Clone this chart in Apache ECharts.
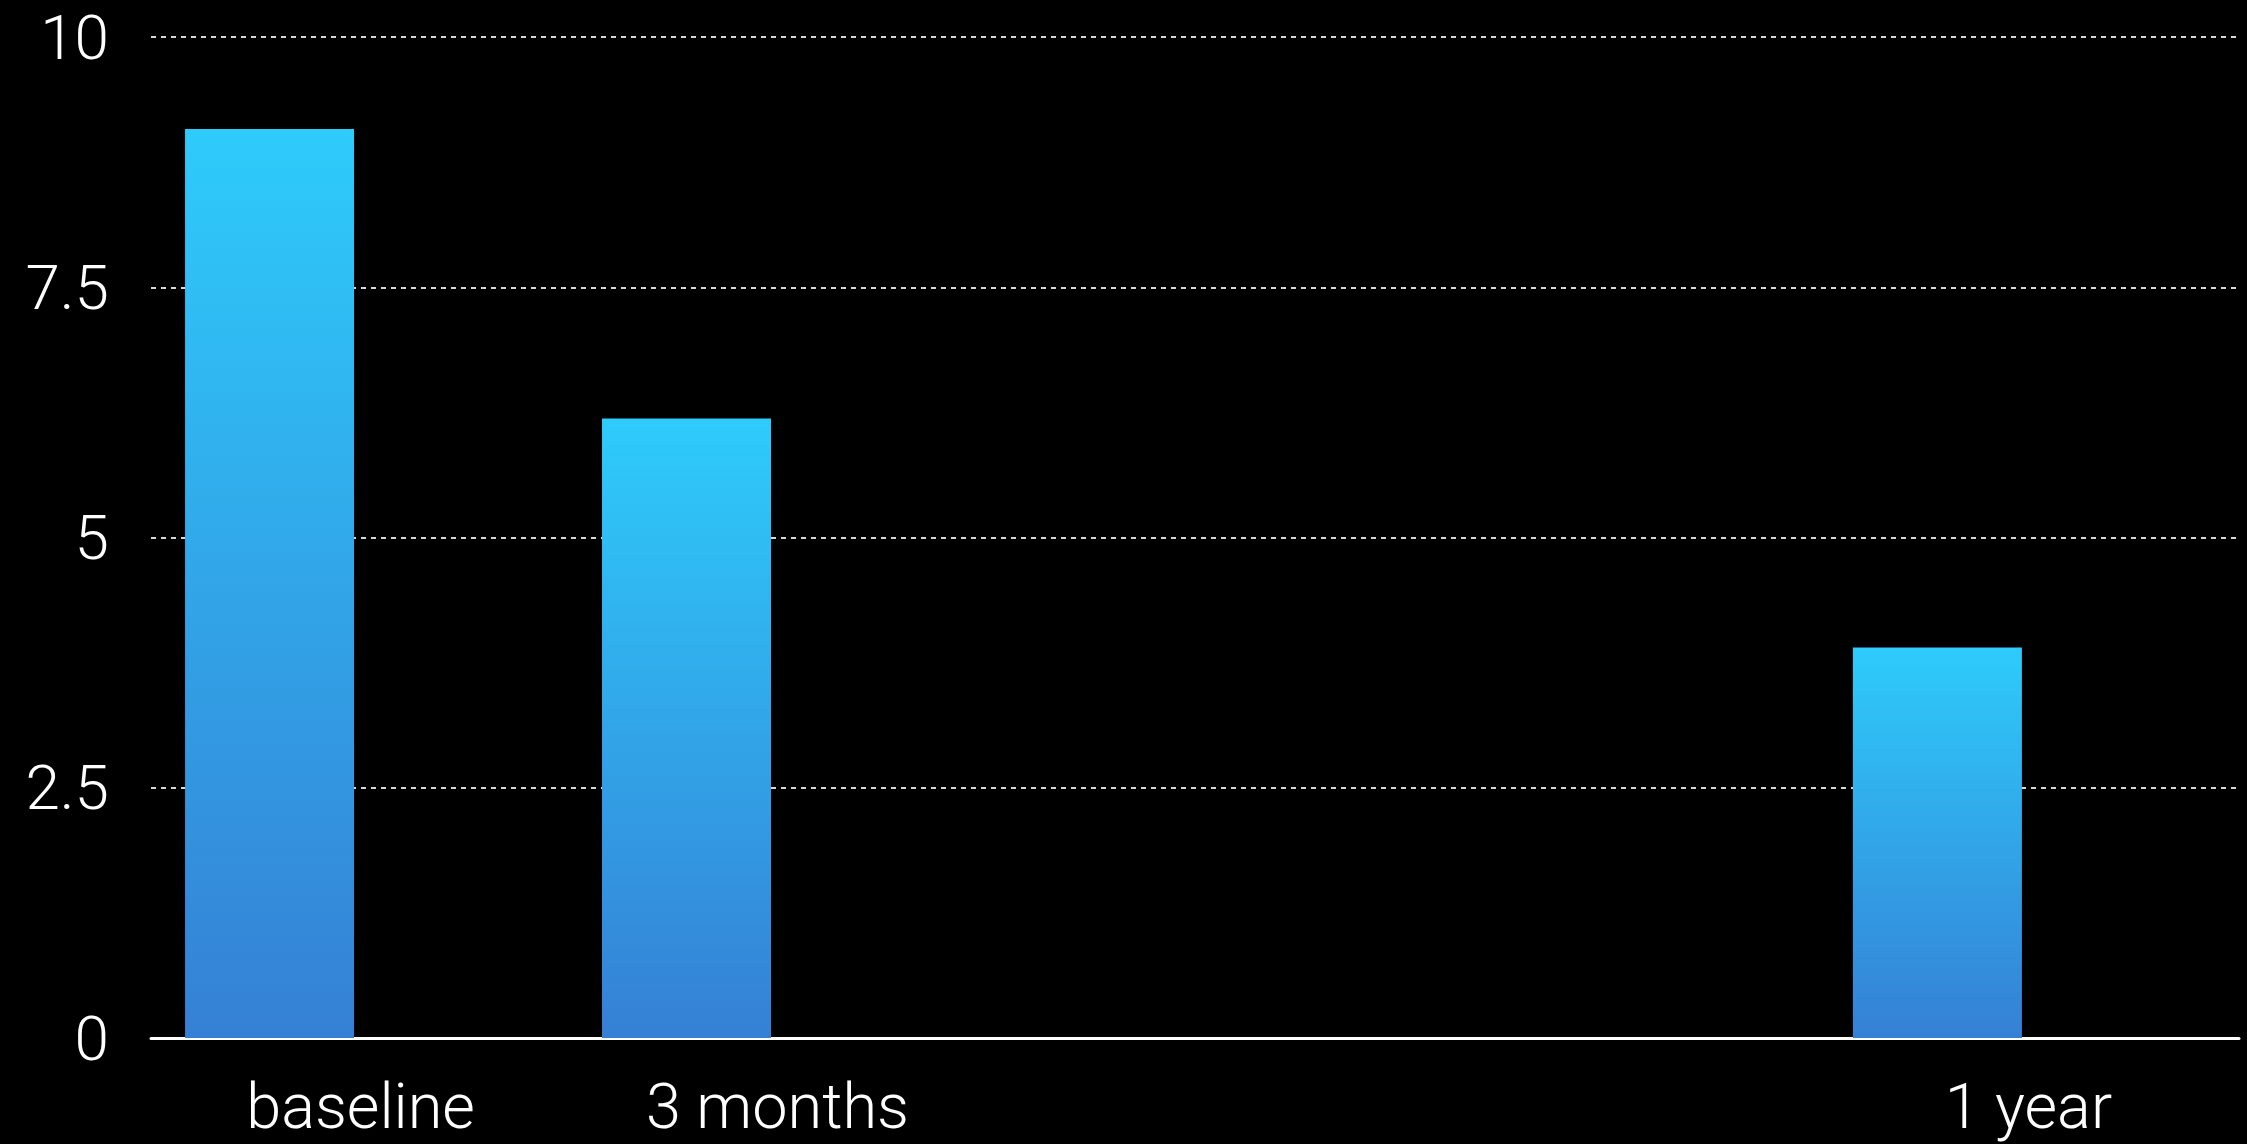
<!DOCTYPE html>
<html>
<head>
<meta charset="utf-8">
<style>
html,body{margin:0;padding:0;background:#000;}
#c{width:2247px;height:1144px;}
</style>
<script src="https://cdn.jsdelivr.net/npm/echarts@6/dist/echarts.min.js"></script>
</head>
<body>
<div id="c"></div>
<script>
// Data
const categories = ['baseline', '3 months', '1 year'];
const monthsAt = [0, 3, 12];
const values = [9.08, 6.19, 3.9];
const yTicks = [0, 2.5, 5, 7.5, 10];

const chart = echarts.init(document.getElementById('c'));
const font = 'Roboto, "Helvetica Neue", Helvetica, Arial, sans-serif';
const labelFor = {};
monthsAt.forEach((m, i) => { labelFor[m] = categories[i]; });

chart.setOption({
  backgroundColor: '#000',
  animation: false,
  grid: { left: 151, right: 8, top: 37, bottom: 102, containLabel: false },
  xAxis: {
    type: 'value',
    min: -0.853,
    max: 14.17,
    splitLine: { show: false },
    axisTick: { show: false },
    axisLine: { show: true, onZero: false, lineStyle: { color: '#fff', width: 3 } },
    axisLabel: {
      customValues: monthsAt,
      formatter: v => labelFor[v] || '',
      color: '#fff',
      fontFamily: font,
      fontWeight: 300,
      fontSize: 63,
      margin: 43,
      padding: [0, 0, 0, 182]
    }
  },
  yAxis: {
    type: 'value',
    min: yTicks[0],
    max: yTicks[yTicks.length - 1],
    interval: 2.5,
    axisLine: { show: false },
    axisTick: { show: false },
    axisLabel: {
      color: '#fff',
      fontFamily: font,
      fontWeight: 300,
      fontSize: 62,
      margin: 42,
      verticalAlign: 'top',
      lineHeight: 12,
      formatter: v => String(v)
    },
    splitLine: {
      show: true,
      lineStyle: { color: '#d8d8d8', width: 2, type: [5, 5] }
    }
  },
  series: [{
    type: 'bar',
    barWidth: 169,
    data: monthsAt.map((m, i) => [m, values[i]]),
    itemStyle: {
      color: new echarts.graphic.LinearGradient(0, 0, 0, 1, [
        { offset: 0, color: '#2ecbfb' },
        { offset: 1, color: '#3580d5' }
      ])
    }
  }]
});
</script>
</body>
</html>
